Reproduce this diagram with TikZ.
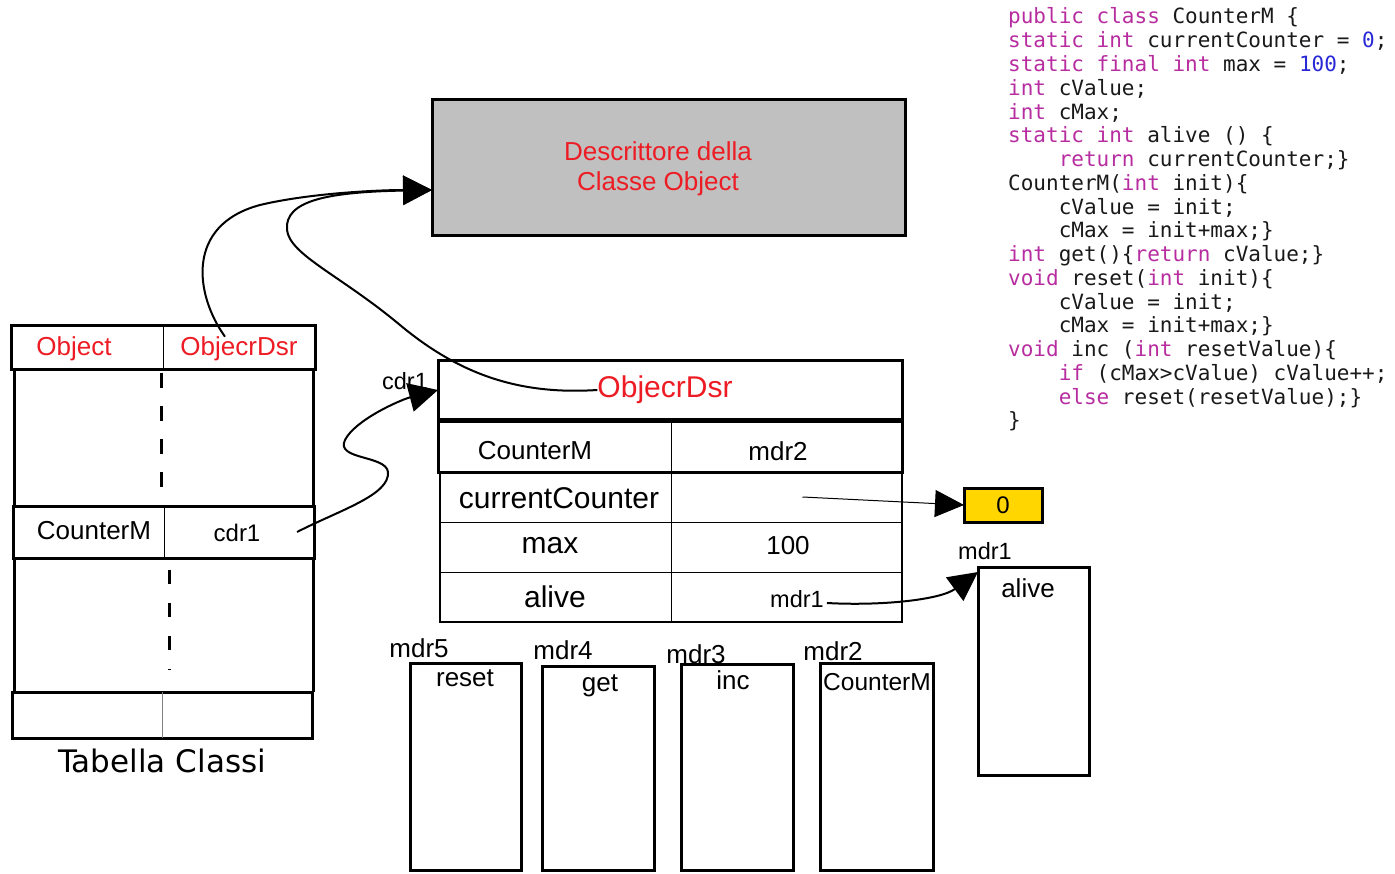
\documentclass[tikz,border=0pt]{standalone}
\usepackage{fontspec}
\setmainfont{Liberation Sans}
\newfontfamily\verdfont{DejaVu Sans}
\setmonofont{DejaVu Sans Mono}
\usetikzlibrary{arrows.meta}
\definecolor{tred}{RGB}{237,28,36}
\definecolor{dgray}{RGB}{192,192,192}
\definecolor{ygold}{RGB}{255,214,0}
\definecolor{kwc}{RGB}{183,45,160}
\definecolor{numc}{RGB}{40,40,215}
\definecolor{codec}{RGB}{25,25,25}
\newcommand{\kw}[1]{\textcolor{kwc}{#1}}
\newcommand{\nm}[1]{\textcolor{numc}{#1}}
\newcommand{\ind}{\phantom{0000}}
\newcommand{\fsz}[1]{\fontsize{#1}{#1}\selectfont}
\begin{document}
\begin{tikzpicture}[x=1pt,y=-1pt,
  box/.style={draw, line width=3pt, inner sep=0, outer sep=0, anchor=north west},
  cell/.style={inner sep=0, outer sep=0, anchor=north west},
  lbl/.style={inner sep=0, font=\fsz{25}},
  rlbl/.style={lbl, text=tred},
  thin/.style={line width=1pt},
  thickln/.style={line width=3pt},
  dsh/.style={line width=3pt, dash pattern=on 15pt off 18pt},
  conn/.style={line width=2pt, -{Triangle[length=29pt,width=29pt]}},
  connthin/.style={line width=1pt, -{Triangle[length=29pt,width=27pt]}},
  codeline/.style={inner sep=0, anchor=base west, text=codec, font=\ttfamily\fsz{21}}
]
\useasboundingbox (0,0) rectangle (1395,874);

% ---------- descriptor of class Object ----------
\node[box, fill=dgray, minimum width=473, minimum height=136] (desc) at (432,100) {};
\node[inner sep=0, text=tred, align=center, font={\fontsize{26}{30}\selectfont}] (desctxt) at (658,169) {Descrittore della\\Classe Object};

% ---------- Tabella Classi ----------
\node[box, minimum width=304, minimum height=44] (lhead) at (11,326) {};
\draw[thin] (163,326) -- (163,370);
\node[rlbl, font=\fsz{26}] (lobj) at (74,349) {Object};
\node[rlbl, font=\fsz{26}] (ldsr) at (239,349) {ObjecrDsr};
\draw[thickln] (14,370) -- (14,506);
\draw[thickln] (313,370) -- (313,506);
\draw[dsh] (161,373) -- (161,490);
\node[box, minimum width=301, minimum height=52] (lrow) at (13,506) {};
\draw[thin] (164,506) -- (164,558);
\node[cell, minimum width=150, minimum height=52] (lcdrcell) at (164,506) {};
\node[lbl, font=\fsz{26}] (lcm) at (94,531) {CounterM};
\node[lbl, font=\fsz{24}] (lcdr) at (237,533) {cdr1};
\draw[thickln] (14,558) -- (14,692);
\draw[thickln] (313,558) -- (313,692);
\draw[line width=3pt, dash pattern=on 14pt off 19pt] (169,570) -- (169,670);
\node[box, minimum width=300, minimum height=46] (lbot) at (12,692) {};
\draw[thin, gray] (162,692) -- (162,738);
\node[inner sep=0, font=\verdfont\fsz{31}] (tabcl) at (162,761) {Tabella Classi};

% ---------- class descriptor CounterM ----------
\node[lbl, font=\fsz{23.5}] (cdrlab) at (405,381) {cdr1};
\node[box, minimum width=464, minimum height=59] (crow1) at (438,361) {};
\node[rlbl, font=\fsz{30}] (cdsr) at (665,390) {ObjecrDsr};
\node[box, minimum width=464, minimum height=50] (crow2) at (438,422) {};
\draw[thin] (671,422) -- (671,472);
\node[lbl, font=\fsz{26}] (ccm) at (535,451) {CounterM};
\node[lbl, font=\fsz{26}] (cmdr2) at (778,451) {mdr2};
\node[draw, line width=2pt, inner sep=0, outer sep=0, anchor=north west, minimum width=462, minimum height=150] (cbody) at (440,472) {};
\draw[thin] (440,522) -- (902,522);
\draw[thin] (440,572) -- (902,572);
\draw[thin] (671,472) -- (671,622);
\node[cell, minimum width=231, minimum height=50] (ccval) at (671,472) {};
\node[lbl, font=\fsz{30}] (ccc) at (559,498) {currentCounter};
\node[lbl, font=\fsz{30}] (cmax) at (550,546) {max};
\node[lbl, font=\fsz{26}] (c100) at (788,546) {100};
\node[lbl, font=\fsz{30}] (calive) at (555,597) {alive};
\node[lbl, font=\fsz{23.5}] (cmdr1) at (797,599) {mdr1};

% ---------- static value ----------
\node[box, fill=ygold, minimum width=78, minimum height=34] (yel) at (964,488) {};
\node[lbl, font=\fsz{24}] (yzero) at (1003,505) {0};

% ---------- method areas ----------
\node[lbl, font=\fsz{23.5}] (amdr1) at (985,551) {mdr1};
\node[box, minimum width=111, minimum height=208] (alivebox) at (978,567) {};
\node[lbl, font=\fsz{26}] (alivetxt) at (1028,588) {alive};

\node[lbl, font=\fsz{26}] (mdr5) at (419,648) {mdr5};
\node[box, minimum width=111, minimum height=207] (resetbox) at (410,663) {};
\node[lbl, font=\fsz{26}] (resettxt) at (465,678) {reset};

\node[lbl, font=\fsz{26}] (mdr4) at (563,650) {mdr4};
\node[box, minimum width=112, minimum height=204] (getbox) at (542,666) {};
\node[lbl, font=\fsz{26}] (gettxt) at (600,686) {get};

\node[lbl, font=\fsz{26}] (mdr3) at (696,654) {mdr3};
\node[box, minimum width=112, minimum height=206] (incbox) at (681,664) {};
\node[lbl, font=\fsz{26}] (inctxt) at (733,680) {inc};

\node[lbl, font=\fsz{26}] (mdr2) at (833,651) {mdr2};
\node[box, minimum width=113, minimum height=207] (cmbox) at (820,663) {};
\node[lbl, font=\fsz{24.5}] (cmtxt) at (877,682) {CounterM};

% ---------- connectors ----------
\draw[conn] ([xshift=-14pt]ldsr.north) .. controls (195,295) and (185,225) .. (260,205)
   .. controls (310,193) and (380,190) .. ([yshift=-22pt]desc.west);
\draw[conn] (cdsr.west) .. controls (520,395) and (460,375) .. (400,325)
   .. controls (340,275) and (290,255) .. (287,230)
   .. controls (284,200) and (330,192) .. ([yshift=-22pt]desc.west);
\draw[conn] ([xshift=-17pt]lcdrcell.east) .. controls (340,510) and (390,495) .. (388,472)
   .. controls (386,455) and (335,460) .. (345,440)
   .. controls (355,420) and (400,400) .. ([yshift=-29pt]crow1.north west);
\draw[connthin] ([xshift=16pt]ccval.center) -- (yel.west);
\draw[conn] ([xshift=3pt,yshift=-4pt]cmdr1.east) .. controls (880,606) and (940,600) .. ([yshift=-5pt]alivebox.north west);

% ---------- source code ----------
\foreach \ln [count=\i] in {
  {\kw{public class} CounterM \{},
  {\kw{static int} currentCounter = \nm{0};},
  {\kw{static final int} max = \nm{100};},
  {\kw{int} cValue;},
  {\kw{int} cMax;},
  {\kw{static int} alive () \{},
  {\ind\kw{return} currentCounter;\}},
  {CounterM(\kw{int} init)\{},
  {\ind cValue = init;},
  {\ind cMax = init+max;\}},
  {\kw{int} get()\{\kw{return} cValue;\}},
  {\kw{void} reset(\kw{int} init)\{},
  {\ind cValue = init;},
  {\ind cMax = init+max;\}},
  {\kw{void} inc (\kw{int} resetValue)\{},
  {\ind\kw{if} (cMax>cValue) cValue++;},
  {\ind\kw{else} reset(resetValue);\}},
  {\}}}{
  \pgfmathsetmacro\yy{24+23.76*(\i-1)}
  \node[codeline] (code\i) at (1008,\yy) {\ln};
}
\end{tikzpicture}
\end{document}
